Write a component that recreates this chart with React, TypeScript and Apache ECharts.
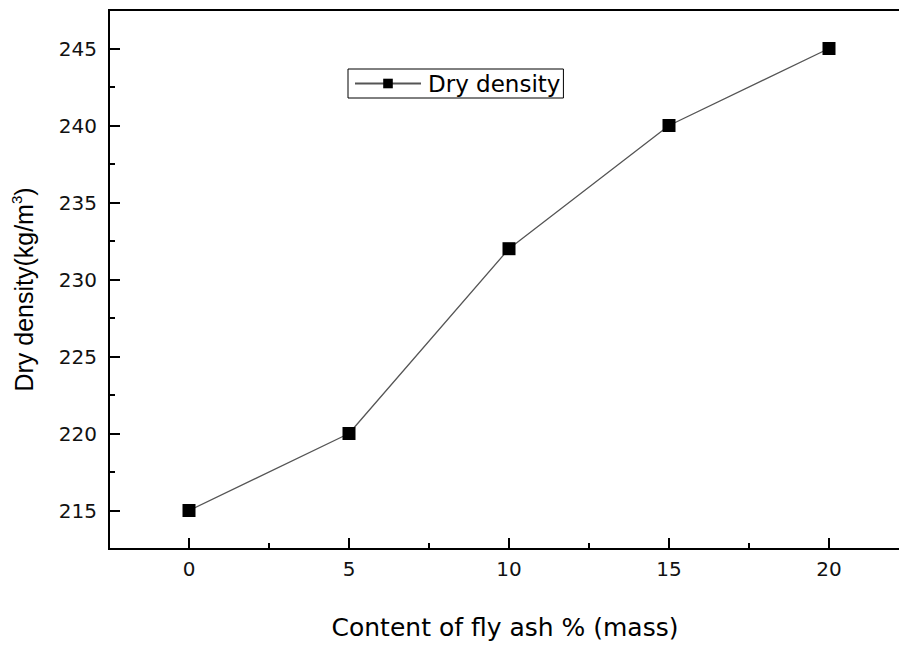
import React, { useEffect, useRef } from "react";
import * as echarts from "echarts";

const flyAsh = [0, 5, 10, 15, 20];
const dryDensity = [215, 220, 232, 240, 245];
const xMajorTicks = [0, 5, 10, 15, 20];
const xMinorTicks = [2.5, 7.5, 12.5, 17.5];
const yMajorTicks = [215, 220, 225, 230, 235, 240, 245];
const yMinorTicks = [217.5, 222.5, 227.5, 232.5, 237.5, 242.5];
const seriesName = "Dry density";
const xName = "Content of fly ash % (mass)";

export default function App() {
  const ref = useRef<HTMLDivElement>(null);
  useEffect(() => {
    if (!ref.current) return;
    const chart = echarts.init(ref.current, null, { renderer: "svg" });
    const labelFont = { fontFamily: "DejaVu Sans", fontSize: 20, color: "#111" };
    const majorTick = { show: true, inside: true, length: 11, lineStyle: { color: "#000", width: 2 } };
    const minorTick = { show: true, inside: true, length: 6, lineStyle: { color: "#000", width: 2 } };
    chart.setOption({
      animation: false,
      backgroundColor: "#fff",
      grid: {
        left: 109,
        right: 11,
        top: 10,
        bottom: 95,
        show: true,
        borderColor: "#000",
        borderWidth: 2,
        backgroundColor: "transparent",
      },
      legend: {
        left: 348,
        top: 69,
        data: [seriesName],
        itemWidth: 66,
        itemHeight: 12,
        itemGap: 0,
        padding: [3, 3, 3, 6],
        borderColor: "#000",
        borderWidth: 1,
        borderRadius: 0,
        backgroundColor: "#fff",
        textStyle: { fontFamily: "DejaVu Sans", fontSize: 23, color: "#000", padding: [0, 0, 0, 2] },
      },
      xAxis: [
        {
          type: "value",
          position: "bottom",
          min: -2.5,
          max: 22.5,
          name: xName,
          nameLocation: "middle",
          nameGap: 66,
          nameTextStyle: { fontFamily: "DejaVu Sans", fontSize: 25, color: "#000", padding: [0, 8, 0, 0] },
          axisLine: { show: true, onZero: false, lineStyle: { color: "#000", width: 2 } },
          axisTick: { ...majorTick, customValues: xMajorTicks },
          axisLabel: { ...labelFont, margin: 10, customValues: xMajorTicks },
          splitLine: { show: false },
        },
        {
          type: "value",
          position: "bottom",
          offset: 0,
          min: -2.5,
          max: 22.5,
          axisLine: { show: false, onZero: false },
          axisTick: { ...minorTick, customValues: xMinorTicks },
          axisLabel: { show: false, customValues: xMinorTicks },
          splitLine: { show: false },
        },
      ],
      yAxis: [
        {
          type: "value",
          position: "left",
          min: 212.5,
          max: 247.5,
          name: "{b|Dry density(kg/m}{s|3}{b|)}",
          nameLocation: "middle",
          nameRotate: 90,
          nameGap: 70,
          nameTextStyle: {
            fontFamily: "Liberation Sans",
            fontSize: 25,
            color: "#000",
            padding: [0, 20, 0, 0],
            rich: {
              b: { fontFamily: "Liberation Sans", fontSize: 25, color: "#000", lineHeight: 30, verticalAlign: "middle" },
              s: { fontFamily: "Liberation Sans", fontSize: 15, color: "#000", lineHeight: 16, verticalAlign: "top" },
            },
          },
          axisLine: { show: true, onZero: false, lineStyle: { color: "#000", width: 2 } },
          axisTick: { ...majorTick, customValues: yMajorTicks },
          axisLabel: { ...labelFont, margin: 12, customValues: yMajorTicks },
          splitLine: { show: false },
        },
        {
          type: "value",
          position: "left",
          offset: 0,
          min: 212.5,
          max: 247.5,
          axisLine: { show: false, onZero: false },
          axisTick: { ...minorTick, customValues: yMinorTicks },
          axisLabel: { show: false, customValues: yMinorTicks },
          splitLine: { show: false },
        },
      ],
      series: [
        {
          name: seriesName,
          type: "line",
          xAxisIndex: 0,
          yAxisIndex: 0,
          data: flyAsh.map((x, i) => [x, dryDensity[i]]),
          symbol: "rect",
          symbolSize: 13,
          itemStyle: { color: "#000" },
          lineStyle: { color: "#555", width: 1.3 },
        },
      ],
    });
    return () => chart.dispose();
  }, []);
  return (
    <div style={{ position: "absolute", left: 0, top: 0, width: 899, height: 645, overflow: "hidden" }}>
      <div ref={ref} style={{ width: 920, height: 645 }} />
    </div>
  );
}
